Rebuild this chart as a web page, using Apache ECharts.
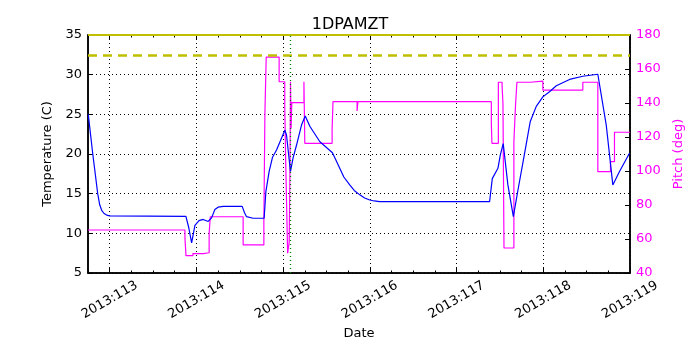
<!DOCTYPE html>
<html>
<head>
<meta charset="utf-8">
<title>1DPAMZT</title>
<script src="https://cdn.jsdelivr.net/npm/echarts@6.0.0/dist/echarts.min.js"></script>
<style>
  html, body { margin: 0; padding: 0; background: #fff; }
  #main { width: 700px; height: 350px; }
</style>
</head>
<body>
<div id="main"></div>
<script>
// temperature (blue), day of year 2013
const tempDays = [112.753, 112.804, 112.862, 112.885, 112.908, 112.935, 112.965, 113.0, 113.879, 113.91, 113.945, 113.983, 114.03, 114.078, 114.136, 114.175, 114.213, 114.25, 114.309, 114.528, 114.555, 114.578, 114.654, 114.781, 114.801, 114.839, 114.878, 114.924, 115.02, 115.039, 115.085, 115.115, 115.154, 115.212, 115.255, 115.308, 115.424, 115.569, 115.653, 115.70, 115.768, 115.82, 115.884, 115.94, 115.999, 116.05, 116.114, 117.381, 117.412, 117.477, 117.505, 117.538, 117.592, 117.655, 117.707, 117.785, 117.85, 117.919, 117.995, 118.072, 118.15, 118.303, 118.456, 118.629, 118.726, 118.802, 118.879, 118.994];
const tempValues = [25.0, 20.1, 15.0, 13.6, 12.9, 12.5, 12.3, 12.2, 12.15, 10.8, 8.8, 11.0, 11.6, 11.75, 11.5, 11.95, 13.0, 13.3, 13.4, 13.4, 12.6, 12.1, 11.9, 11.9, 15.25, 17.8, 19.6, 20.5, 23.0, 22.4, 17.8, 19.5, 21.1, 23.65, 24.8, 23.5, 21.55, 20.15, 18.2, 17.1, 16.1, 15.4, 14.85, 14.45, 14.2, 14.08, 14.0, 14.0, 16.9, 18.2, 19.9, 21.3, 16.1, 12.1, 15.4, 20.1, 24.1, 26.0, 27.2, 27.85, 28.6, 29.4, 29.8, 30.05, 23.65, 16.1, 17.8, 20.1];

// pitch (magenta), value holds from each day until the next
const pitchDays = [112.75, 113.868, 113.88, 113.96, 114.08, 114.147, 114.16, 114.539, 114.778, 114.79, 114.805, 114.954, 115.019, 115.03, 115.052, 115.07, 115.08, 115.085, 115.092, 115.1, 115.24, 115.25, 115.565, 115.575, 115.853, 115.862, 117.401, 117.408, 117.482, 117.525, 117.535, 117.547, 117.661, 117.68, 117.696, 117.85, 117.995, 118.456, 118.629, 118.775, 118.821, 119.0];
const pitchValues = [65.3, 60.5, 50.2, 51.4, 51.9, 63.3, 73.1, 56.5, 70.2, 134, 167, 152.5, 137.8, 104.5, 51.6, 58, 105, 152.5, 125, 140.2, 152.5, 116.3, 124.5, 140.8, 135.3, 140.8, 128, 116.3, 152.2, 150, 139.8, 54.7, 117.2, 138.8, 152.2, 152.9, 147.6, 152.2, 99.6, 105.5, 122.8, 122.8];

const dayTicks = [113, 114, 115, 116, 117, 118, 119];
const planLimit = 32.5;
const topLimit = 35;
const nowDay = 115.085;

const font = "DejaVu Sans";
const xMin = 112.75, xMax = 119;

const chart = echarts.init(document.getElementById("main"), null, { renderer: "canvas" });

function minorAxis(pos) {
  return {
    type: "value", min: xMin, max: xMax, interval: 0.25, position: pos,
    axisLine: { show: false },
    axisTick: { show: true, inside: true, length: 2.5, lineStyle: { color: "#000" } },
    axisLabel: { show: false },
    splitLine: { show: false },
  };
}

const option = {
  animation: false,
  backgroundColor: "#fff",
  textStyle: { fontFamily: font },
  title: {
    text: "1DPAMZT",
    left: "center",
    top: 12,
    textStyle: { fontFamily: font, fontSize: 16, fontWeight: "normal", color: "#000" },
  },
  grid: { left: 88, right: 70, top: 35, bottom: 77, show: true, borderColor: "#000", borderWidth: 1.5 },
  xAxis: [
    {
      type: "value", min: xMin, max: xMax, position: "bottom",
      name: "Date", nameLocation: "middle", nameGap: 53,
      nameTextStyle: { fontFamily: font, fontSize: 13, color: "#000" },
      axisLine: { show: true, lineStyle: { color: "#000", width: 1.5 } },
      axisTick: { show: true, inside: true, length: 5, customValues: dayTicks, lineStyle: { color: "#000" } },
      axisLabel: {
        customValues: dayTicks,
        formatter: (v) => "2013:" + v,
        rotate: 30, align: "center", verticalAlign: "middle", margin: 27,
        fontFamily: font, fontSize: 13, color: "#000",
      },
      splitLine: { show: true, lineStyle: { color: "#000", type: [1, 3], width: 1 } },
    },
    minorAxis("bottom"),
    {
      type: "value", min: xMin, max: xMax, position: "top",
      axisLine: { show: false },
      axisTick: { show: true, inside: true, length: 5, customValues: dayTicks, lineStyle: { color: "#000" } },
      axisLabel: { show: false },
      splitLine: { show: false },
    },
    minorAxis("top"),
  ],
  yAxis: [
    {
      type: "value", min: 5, max: 35, interval: 5, position: "left",
      name: "Temperature (C)", nameLocation: "middle", nameGap: 31,
      nameTextStyle: { fontFamily: font, fontSize: 13, color: "#000" },
      axisLine: { show: true, lineStyle: { color: "#000", width: 1.5 } },
      axisTick: { show: true, inside: true, length: 5, lineStyle: { color: "#000" } },
      axisLabel: { fontFamily: font, fontSize: 13, color: "#000", margin: 6 },
      splitLine: { show: true, lineStyle: { color: "#000", type: [1, 3], width: 1 } },
    },
    {
      type: "value", min: 40, max: 180, interval: 20, position: "right",
      name: "Pitch (deg)", nameLocation: "middle", nameGap: 35,
      nameTextStyle: { fontFamily: font, fontSize: 13, color: "#ff00ff" },
      axisLine: { show: true, lineStyle: { color: "#000", width: 1.5 } },
      axisTick: { show: true, inside: true, length: 5, lineStyle: { color: "#000" } },
      axisLabel: { fontFamily: font, fontSize: 13, color: "#ff00ff", margin: 6 },
      splitLine: { show: false },
    },
  ],
  series: [
    {
      name: "Pitch",
      type: "line",
      xAxisIndex: 0,
      yAxisIndex: 1,
      step: "end",
      showSymbol: false,
      lineStyle: { color: "#ff00ff", width: 1.2 },
      data: pitchDays.map((d, i) => [d, pitchValues[i]]),
    },
    {
      name: "Temperature",
      type: "line",
      xAxisIndex: 0,
      yAxisIndex: 0,
      showSymbol: false,
      lineStyle: { color: "#0000ff", width: 1.2 },
      data: tempDays.map((d, i) => [d, tempValues[i]]),
      markLine: {
        silent: true,
        symbol: "none",
        label: { show: false },
        data: [
          { yAxis: planLimit, lineStyle: { color: "#bfbf00", width: 2.5, type: [9, 6] } },
          { yAxis: topLimit, lineStyle: { color: "#bfbf00", width: 2, type: "solid" } },
          { xAxis: nowDay, lineStyle: { color: "#008000", width: 1.3, type: [1, 3] } },
        ],
      },
    },
  ],
};

chart.setOption(option);
</script>
</body>
</html>
